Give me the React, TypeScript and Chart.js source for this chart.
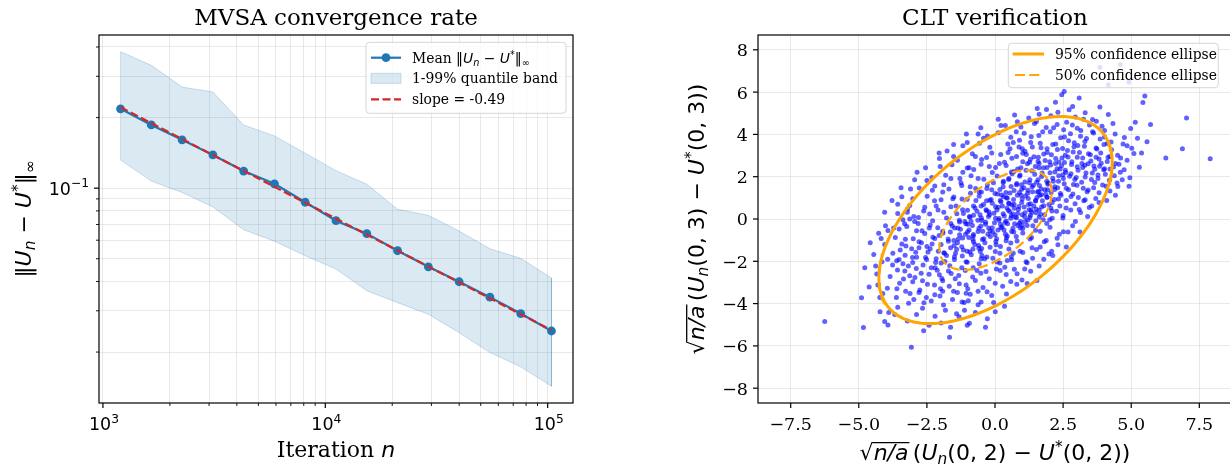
import React, { useEffect, useRef } from "react";
import { Chart, registerables } from "chart.js";

Chart.register(...registerables);

// ---------------- Left panel data ----------------
const iterations = [1200, 1650, 2270, 3122, 4294, 5906, 8124, 11173, 15368, 21137, 29072, 39986, 54997, 75643, 104040];
const meanError = [0.218, 0.186, 0.1607, 0.1386, 0.1183, 0.1044, 0.0871, 0.0727, 0.064, 0.0541, 0.0462, 0.0399, 0.0343, 0.0292, 0.0246];
const bandUpper = [0.382, 0.334, 0.27, 0.257, 0.186, 0.167, 0.141, 0.1188, 0.104, 0.0813, 0.0766, 0.0656, 0.0552, 0.0502, 0.0414];
const bandLower = [0.1318, 0.1072, 0.0959, 0.0832, 0.0665, 0.0594, 0.0515, 0.0452, 0.0365, 0.0325, 0.029, 0.0242, 0.0199, 0.0173, 0.0143];
const slopeLineN = [1200, 104040];
const slopeLineErr = [0.2215, 0.0248];
const slopeLabel = "slope = -0.49";
const leftXMajor = [1000, 10000, 100000];
const leftXMajorExp = ["3", "4", "5"];
const leftXMinor = [2000, 3000, 4000, 5000, 6000, 7000, 8000, 9000, 20000, 30000, 40000, 50000, 60000, 70000, 80000, 90000];
const leftYMajor = [0.1];
const leftYMajorExp = ["\u22121"];
const leftYMinor = [0.02, 0.03, 0.04, 0.05, 0.06, 0.07, 0.08, 0.09, 0.2, 0.3, 0.4];
const leftXRange = [960, 130000];
const leftYRange = [0.01213, 0.45];

// ---------------- Right panel data ----------------
const cltPointsOuter: [number, number][] = [
  [2.54, 6.03], [2.45, 5.88], [3.09, 5.72], [2.72, 5.17], [1.89, 5.18], [3.85, 5.29], [4.16, 4.94], [5.5, 5.81], [5.43, 5.51],
  [1.24, 4.77], [1.62, 4.95], [2.05, 4.88], [2.31, 5.05], [2.95, 4.82], [3.31, 5.02], [3.58, 4.71], [0.82, 4.6], [1.45, 4.52],
  [0.38, 4.42], [0.95, 4.35], [1.52, 4.61], [1.88, 4.33], [2.28, 4.47], [2.63, 4.58], [3.02, 4.29], [3.47, 4.44], [3.93, 4.39], [4.33, 4.51], [4.98, 4.28], [5.71, 4.47],
  [-0.28, 3.92], [0.12, 4.08], [0.58, 3.87], [1.07, 4.05], [1.61, 3.95], [2.03, 4.12], [2.41, 3.84], [2.77, 4.03], [3.14, 3.91], [3.62, 4.07], [4.02, 3.88], [4.41, 4.02], [5.23, 3.82], [-0.62, 4.02], [0.9, 3.72],
  [-1.18, 3.46], [-0.57, 3.58], [-0.19, 3.39], [0.47, 3.55], [0.88, 3.41], [1.31, 3.62], [1.69, 3.37], [2.12, 3.52], [2.48, 3.33], [2.91, 3.61], [3.28, 3.44], [3.71, 3.36], [4.12, 3.57], [4.85, 3.46], [5.58, 3.65], [1.1, 3.2], [1.92, 3.15], [2.7, 3.7],
  [-1.52, 2.96], [-0.83, 3.08], [-0.31, 2.91], [0.21, 3.05], [0.62, 2.87], [1.02, 3.11], [1.43, 2.94], [1.79, 3.07], [2.23, 2.86], [2.58, 3.02], [3.02, 2.92], [3.43, 3.09], [3.82, 2.84], [4.22, 2.95], [1.58, 2.72], [2.35, 2.7], [0.35, 2.68], [6.27, 2.88], [6.88, 3.32], [7.9, 2.85], [7.03, 4.77],
  [-2.01, 2.48], [-1.58, 2.56], [-1.02, 2.41], [-0.51, 2.59], [0.02, 2.44], [0.41, 2.53], [0.83, 2.37], [1.19, 2.61], [1.62, 2.42], [2.04, 2.55], [2.39, 2.36], [2.81, 2.58], [3.22, 2.43], [3.63, 2.51], [4.02, 2.38], [4.22, 2.36], [4.55, 2.59], [4.74, 2.33], [1.35, 2.28], [0.6, 2.22], [2.6, 2.2],
  [-2.32, 1.96], [-1.81, 2.07], [-1.29, 1.92], [-0.88, 2.04], [-0.41, 1.88], [0.08, 2.03], [0.51, 1.91], [0.92, 2.08], [1.28, 1.86], [1.71, 2.01], [2.12, 1.93], [2.49, 2.09], [2.93, 1.87], [3.31, 1.99], [3.78, 1.91], [4.67, 1.85], [4.48, 1.7], [1.1, 1.75], [0.3, 1.72], [1.9, 1.78], [-0.1, 2.2], [0.7, 2.25],
  [-2.78, 1.47], [-2.21, 1.56], [-1.69, 1.42], [-1.22, 1.58], [-0.71, 1.44], [-0.28, 1.61], [0.18, 1.39], [0.59, 1.54], [0.98, 1.41], [1.41, 1.59], [1.83, 1.38], [2.19, 1.52], [2.62, 1.45], [3.01, 1.6], [3.42, 1.37], [4.51, 1.54], [0.4, 1.25], [1.2, 1.22], [1.6, 1.3], [-0.5, 1.28], [2.4, 1.2], [0.8, 1.68], [1.95, 1.7],
  [-3.02, 0.96], [-2.49, 1.07], [-1.98, 0.91], [-1.51, 1.04], [-1.02, 0.93], [-0.58, 1.08], [-0.19, 0.89], [0.31, 1.05], [0.68, 0.92], [1.12, 1.09], [1.49, 0.88], [1.91, 1.03], [2.33, 0.94], [2.79, 1.06], [3.31, 0.91], [0.0, 1.2], [0.9, 1.25], [1.7, 1.15], [-0.9, 1.22], [0.5, 0.75], [1.3, 0.72], [2.1, 0.78],
  [-3.21, 0.47], [-2.58, 0.55], [-2.09, 0.42], [-1.62, 0.58], [-1.19, 0.44], [-0.79, 0.61], [-0.31, 0.39], [0.12, 0.56], [0.49, 0.41], [0.88, 0.59], [1.32, 0.43], [1.71, 0.57], [2.09, 0.38], [2.61, 0.52], [3.09, 0.45], [-0.55, 0.2], [0.3, 0.25], [1.0, 0.2], [1.5, 0.3], [-1.4, 0.25], [0.7, 0.7], [-0.1, 0.75],
  [-3.38, -0.04], [-2.81, 0.07], [-2.29, -0.08], [-1.78, 0.05], [-1.31, -0.06], [-0.92, 0.08], [-0.48, -0.07], [0.02, 0.04], [0.41, -0.09], [0.79, 0.06], [1.21, -0.05], [1.62, 0.09], [2.01, -0.03], [2.49, 0.05], [-3.57, 0.26], [-3.13, 0.0], [-3.13, 0.64], [-3.57, 0.7], [0.2, -0.25], [-0.2, 0.2], [0.6, 0.15], [1.0, -0.3], [-1.0, -0.25],
  [-3.52, -0.47], [-2.88, -0.56], [-2.41, -0.43], [-1.92, -0.58], [-1.48, -0.42], [-1.01, -0.61], [-0.59, -0.44], [-0.18, -0.57], [0.22, -0.41], [0.61, -0.59], [1.02, -0.45], [1.49, -0.53], [2.02, -0.39], [2.51, -0.6], [-4.27, -0.67], [-3.93, -0.54], [-0.8, -0.8], [0.0, -0.75], [0.45, -0.8], [-1.3, -0.75], [0.9, -0.2], [-0.35, -0.25],
  [-3.29, -0.96], [-2.79, -1.07], [-2.21, -0.92], [-1.71, -1.05], [-1.19, -0.9], [-0.79, -1.08], [-0.41, -0.93], [0.03, -1.06], [0.42, -0.89], [0.81, -1.04], [1.29, -0.94], [1.81, -1.08], [2.28, -0.91], [-1.5, -1.25], [-0.6, -1.25], [0.2, -1.3], [-2.5, -1.3],
  [-3.48, -1.46], [-2.91, -1.57], [-2.38, -1.41], [-1.88, -1.59], [-1.41, -1.43], [-0.92, -1.56], [-0.49, -1.39], [0.01, -1.54], [0.51, -1.42], [1.02, -1.58], [1.52, -1.44], [2.08, -1.52], [-3.94, -1.9], [-1.2, -1.75], [-0.3, -1.8], [0.6, -1.78],
  [-3.61, -1.97], [-3.02, -2.06], [-2.51, -1.92], [-1.98, -2.08], [-1.49, -1.91], [-1.02, -2.04], [-0.51, -1.88], [0.08, -2.03], [0.61, -1.93], [1.18, -2.07], [1.79, -1.9], [-4.78, -2.31], [-4.34, -2.6], [-2.2, -2.3], [-0.8, -2.3],
  [-3.31, -2.46], [-2.71, -2.57], [-2.12, -2.42], [-1.61, -2.58], [-1.09, -2.43], [-0.52, -2.56], [0.19, -2.44], [0.81, -2.59], [1.31, -2.47], [0.99, -2.88], [1.54, -2.91],
  [-3.02, -2.97], [-2.48, -3.08], [-1.92, -2.92], [-1.31, -3.06], [-0.72, -2.91], [0.01, -3.04], [0.58, -2.95], [-2.0, -3.3], [-1.0, -3.3], [-3.6, -3.3],
  [-2.79, -3.47], [-2.21, -3.58], [-1.52, -3.42], [-0.91, -3.56], [-0.29, -3.44], [-1.06, -3.51], [-4.23, -3.71], [-3.17, -3.98],
  [-2.61, -3.96], [-1.89, -4.07], [-1.21, -3.92], [-0.62, -4.05], [-1.13, -3.95], [-0.05, -3.95], [-3.57, -4.17], [-4.22, -4.38], [-3.9, -4.42],
  [-2.88, -4.52], [-1.41, -4.48], [0.01, -4.38], [-0.94, -4.93], [-2.2, -4.6], [-3.93, -5.01], [-6.25, -4.85], [-4.83, -5.13], [-2.62, -5.28], [-3.07, -6.06], [-1.67, -5.59], [-1.63, -5.12],
  [3.85, 7.17], [4.6, 7.3], [4.92, 6.46], [4.16, 6.35],
];
const cltPointsCore: [number, number][] = [
  [-1.85, -1.62], [-1.72, -0.94], [-1.66, -2.21], [-1.57, -0.33], [-1.49, -1.78], [-1.43, 0.62], [-1.38, -1.12], [-1.33, -2.67], [-1.27, -0.48], [-1.21, 0.95],
  [-1.16, -1.47], [-1.11, -0.12], [-1.06, -2.02], [-1.01, 0.41], [-0.96, -0.88], [-0.91, 1.53], [-0.87, -1.69], [-0.83, -0.31], [-0.79, 0.18], [-0.74, -1.21],
  [-0.7, 0.87], [-0.66, -2.43], [-0.62, -0.59], [-0.58, 1.27], [-0.54, -1.54], [-0.5, 0.05], [-0.46, -0.97], [-0.42, 0.69], [-0.38, -1.88], [-0.34, -0.15],
  [-0.3, 1.44], [-0.26, -0.72], [-0.22, 0.33], [-0.18, -1.33], [-0.14, 0.92], [-0.1, -0.41], [-0.06, 1.71], [-0.02, -0.18], [0.02, 0.58], [0.06, -0.93],
  [0.1, 1.18], [0.14, -0.06], [0.18, -1.62], [0.22, 0.81], [0.26, -0.37], [0.3, 1.52], [0.34, 0.14], [0.38, -0.71], [0.42, 1.02], [0.46, -0.22],
  [0.5, 1.87], [0.54, 0.36], [0.58, -1.14], [0.62, 0.66], [0.66, -0.44], [0.7, 1.35], [0.74, 0.09], [0.78, -0.83], [0.82, 1.12], [0.86, 0.45],
  [0.9, 2.02], [0.94, -0.12], [0.98, 0.78], [1.02, -0.66], [1.06, 1.48], [1.1, 0.29], [1.14, 2.31], [1.18, -0.31], [1.22, 0.97], [1.26, 1.71],
  [1.3, 0.18], [1.34, -0.87], [1.38, 1.29], [1.42, 0.62], [1.46, 2.11], [1.5, -0.08], [1.54, 1.02], [1.58, 1.86], [1.62, 0.41], [1.66, -0.58],
  [1.7, 1.42], [1.74, 0.86], [1.78, 2.42], [1.82, 0.2], [1.86, 1.17], [1.9, -0.21], [1.94, 1.64], [1.98, 0.68], [2.02, 2.19], [2.06, 1.24],
  [2.1, 0.04], [2.14, 1.79], [2.18, 0.92], [2.22, 2.63], [2.26, 0.37], [2.3, 1.48], [2.34, 2.05], [2.38, 0.61], [2.42, 1.12], [2.46, 2.88],
  [2.5, 0.16], [2.54, 1.67], [2.58, 2.31], [2.62, 0.88], [2.66, 3.24], [2.7, 1.38], [2.74, 2.02], [2.78, 0.43], [2.82, 2.71], [2.86, 1.18],
  [2.9, 3.42], [2.94, 0.72], [2.98, 1.96], [3.02, 2.47], [3.06, 1.02], [3.1, 3.15], [3.14, 0.31], [3.18, 1.74], [3.22, 2.88], [3.26, 0.86],
  [3.3, 3.66], [3.34, 2.18], [3.38, 1.29], [3.42, 2.61], [3.46, 0.54], [3.5, 3.04], [3.54, 1.87], [3.58, 4.12], [3.62, 1.48], [3.66, 2.35],
  [3.7, 0.97], [3.74, 3.31], [3.78, 2.08], [3.82, 1.24], [3.86, 3.78], [3.9, 2.64], [3.95, 1.61], [4.0, 3.52], [4.05, 2.12], [4.1, 0.88],
  [4.15, 2.92], [4.2, 1.83], [4.28, 3.28], [4.35, 2.46], [4.42, 1.12], [4.5, 3.02], [4.6, 2.21], [4.7, 3.55], [4.85, 2.78], [4.95, 1.95], [5.1, 3.1], [5.3, 2.45],
  [-1.92, -3.42], [-1.98, -1.21], [-2.04, -2.64], [-2.1, -0.41], [-2.16, -1.88], [-2.22, -3.12], [-2.28, -0.86], [-2.34, -2.31], [-2.4, 0.24], [-2.46, -1.56],
  [-2.52, -3.71], [-2.58, -0.68], [-2.64, -2.18], [-2.7, -1.12], [-2.76, -3.36], [-2.82, -0.21], [-2.88, -1.81], [-2.94, -2.77], [-3.0, -0.93], [-3.06, -1.41],
  [-3.12, -3.52], [-3.18, -2.22], [-3.24, -0.36], [-3.3, -1.71], [-3.36, -2.84], [-3.42, -1.18], [-3.5, -3.04], [-3.58, -2.41], [-3.66, -0.88], [-3.75, -1.62],
  [-3.85, -2.72], [-3.95, -3.28], [-4.05, -1.21], [-4.15, -2.02], [-4.3, -3.12], [-4.45, -1.68], [-1.82, -4.32], [-1.56, -3.81], [-1.32, -4.62], [-0.98, -3.86],
  [-0.72, -4.42], [-0.44, -3.24], [-0.21, -2.82], [0.05, -2.36], [0.28, -3.18], [0.45, -1.96], [0.71, -2.38], [0.92, -1.52], [1.14, -2.02], [1.36, -1.36],
  [1.62, -2.22], [1.88, -1.02], [2.12, -1.72], [2.36, -0.72], [2.62, -1.32], [2.85, -0.32], [3.12, -0.62], [3.4, 0.12], [-2.5, 1.82], [-2.86, 2.21],
  [-3.1, 1.42], [-3.42, 1.05], [-2.04, 2.86], [-1.76, 3.22], [-1.38, 2.78], [-1.02, 3.62], [-0.72, 2.96], [-0.42, 3.82], [-0.12, 3.12], [0.22, 4.42],
  [0.55, 3.32], [0.78, 4.12], [-1.62, 1.92], [-1.92, 1.28], [-2.22, 0.86], [-2.62, 0.38], [-2.98, 0.12], [-3.32, -0.22], [-3.72, -0.42], [-4.05, 0.32],
  [-0.95, -0.52], [-0.81, -1.42], [-0.63, -0.06], [-0.48, -1.72], [-0.33, 0.44], [-0.17, -0.83], [-0.04, 0.27], [0.11, -0.52], [0.24, 1.13], [0.37, -0.16],
  [0.52, 0.73], [0.66, 0.24], [0.79, 1.62], [0.93, -0.43], [1.07, 0.57], [1.21, 1.36], [1.35, 0.32], [1.49, 0.85], [1.63, 1.58], [1.77, -0.04],
  [1.91, 1.03], [2.05, 0.52], [2.19, 1.39], [2.33, 1.78], [0.15, 0.02], [0.44, 0.52], [0.72, -0.22], [1.0, 0.95], [1.28, 0.07], [1.56, 1.28],
  [-0.23, -0.42], [-0.51, 0.62], [-0.79, -0.73], [-1.07, -0.23], [-1.35, -0.94], [-1.63, -1.36], [-1.91, -0.66], [0.31, 1.78], [0.63, 2.14], [0.95, 2.42],
  [1.27, 2.68], [1.59, 2.92], [1.91, 3.32], [2.23, 3.55], [2.55, 3.88],
];
const cltPointsExtra: [number, number][] = [
  [1.15, 3.05], [1.37, 3.41], [1.66, 3.58], [1.84, 2.77], [2.07, 3.04], [2.29, 3.29], [2.44, 2.52], [2.68, 2.93], [2.87, 3.17], [3.04, 3.47],
  [3.19, 2.63], [3.36, 3.81], [3.52, 2.74], [3.71, 2.92], [3.88, 3.12], [3.99, 2.33], [4.12, 2.72], [4.26, 3.64], [4.38, 2.05], [2.15, 4.31],
  [2.52, 4.22], [2.84, 4.45], [3.15, 4.18], [1.75, 4.12], [1.33, 3.89], [0.67, 3.62], [1.02, 2.71], [0.79, 2.96], [0.48, 3.14], [0.16, 2.62],
  [-0.21, 2.48], [-0.49, 2.81], [-0.78, 2.34], [1.48, 2.48], [1.73, 2.18], [2.01, 2.71], [2.28, 2.38], [2.55, 2.67], [2.79, 2.14], [3.05, 2.31],
  [3.3, 2.54], [3.57, 2.18], [3.84, 2.49], [4.08, 1.55], [3.66, 1.72], [3.24, 1.45], [2.88, 1.63], [2.51, 1.92], [2.2, 2.22], [1.91, 2.44],
  [1.62, 2.62], [1.3, 2.82], [1.0, 3.32],
  [0.07, 0.42], [0.19, 0.88], [0.33, -0.52], [0.45, 0.98], [0.58, 0.04], [0.71, 0.51], [0.84, -0.31], [0.96, 1.12], [1.09, 0.11], [1.23, 0.68],
  [1.36, 1.52], [1.51, 0.47], [1.64, 1.12], [1.79, 0.63], [1.93, 1.38], [-0.09, -0.62], [-0.24, 0.12], [-0.37, -1.12], [-0.52, -0.33], [-0.66, 0.37],
  [-0.81, -0.96], [-0.94, 0.12], [-1.08, -0.72], [-1.22, -1.31], [-1.36, -0.42], [-1.51, -1.02], [-1.64, -0.61], [-1.78, -1.73], [-0.12, 1.38], [0.04, -1.22],
  [0.27, 0.62], [0.41, -1.03], [0.55, 1.23], [0.69, -0.61], [0.83, 0.26], [0.97, 1.62], [1.11, -0.12], [1.25, 0.44], [1.39, -0.32], [1.53, 1.74],
  [1.67, 0.22], [-0.31, 0.86], [-0.45, -0.58], [-0.59, -1.38], [-0.73, 0.52], [-0.88, -0.12], [-1.02, -1.52], [-1.16, 0.26], [-1.3, -0.14], [-1.45, -1.62],
  [-1.22, -2.31], [-1.46, -2.82], [-1.71, -2.46], [-1.95, -2.81], [-2.18, -2.06], [-2.42, -2.61], [-2.66, -2.92], [-2.89, -2.34], [-3.13, -2.68], [-3.38, -2.12],
  [-1.06, -3.12], [-1.38, -3.48], [-1.68, -3.18], [-2.02, -3.64], [-2.34, -3.88], [-2.66, -4.22], [-2.98, -3.81], [-3.28, -3.42], [-3.62, -3.71], [-0.82, -2.74],
  [-0.58, -2.12], [-0.33, -2.48], [-0.08, -1.86], [0.18, -2.08], [0.41, -2.62], [0.67, -1.62], [-1.84, -2.01], [-2.08, -1.52], [-2.31, -1.18], [-2.55, -1.82],
  [-2.79, -1.36], [-3.03, -1.82], [-3.27, -1.28], [-3.52, -1.92], [-3.76, -2.18], [-2.05, -0.78], [-2.38, -0.28], [-2.68, -0.56], [-2.95, -0.12], [-3.22, 0.32],
  [-1.62, -0.21], [-1.88, 0.32], [-2.16, 0.62], [-1.55, 0.96], [-1.88, 1.62], [-2.3, 1.36], [-1.25, 1.71], [-0.95, 2.42], [-0.62, 1.92], [-1.18, 2.21],
  [3.55, 0.62], [3.82, 0.78], [2.95, -0.12], [2.68, -0.62], [2.31, -1.22], [1.98, -1.66], [1.66, -1.32], [1.38, -1.86], [1.09, -2.36], [0.8, -3.08],
  [0.42, -3.55], [-0.12, -3.62], [-0.51, -3.92], [-0.28, -4.72], [0.36, -2.28], [4.22, 1.32], [4.42, 2.62], [4.61, 2.88], [4.02, 4.18], [3.72, 4.62],
  [3.25, 4.72], [2.85, 5.32], [2.22, 5.52], [1.55, 5.22], [0.72, 4.92], [0.12, 4.72], [-0.52, 4.32], [-1.05, 4.02], [-1.52, 3.52], [-2.05, 3.12],
  [-2.55, 2.42], [-2.95, 1.85], [-3.45, 1.48], [-3.78, 0.88], [-4.02, -0.32], [-4.18, -0.92], [-4.38, -2.22], [-4.12, -3.52], [-3.68, -4.52], [-3.22, -4.82],
  [-2.42, -5.02], [-1.98, -4.92], [-1.12, -4.32], [-0.62, -3.42],
  [4.75, 3.85], [5.02, 3.35], [4.92, 1.55], [5.38, 3.12], [5.15, 4.58], [-4.62, -3.22], [-4.05, -4.85], [-4.58, -1.12], [-4.9, -3.72], [-1.02, -5.02],
  [-0.35, -5.12], [0.35, -4.12], [1.18, -3.05],
];
const ellipseCenter = [0.02, -0.05];
const ellipseSigma = [1.75, 2.0];
const ellipseRho = 0.56;
const chi2Level95 = 5.991;
const chi2Level50 = 1.386;
const rightXTicks = [-7.5, -5, -2.5, 0, 2.5, 5, 7.5];
const rightXTickLabels = ["\u22127.5", "\u22125.0", "\u22122.5", "0.0", "2.5", "5.0", "7.5"];
const rightYTicks = [-8, -6, -4, -2, 0, 2, 4, 6, 8];
const rightYTickLabels = ["\u22128", "\u22126", "\u22124", "\u22122", "0", "2", "4", "6", "8"];
const rightRange = [-8.7, 8.7];

// ---------------- styling ----------------
const SERIF = '"DejaVu Serif", serif';
const SANS = '"DejaVu Sans", sans-serif';
const GRID = "rgba(176,176,176,0.28)";
const BLUE = "#1f77b4";
const BAND_FILL = "rgba(31,119,180,0.16)";
const BAND_EDGE = "rgba(31,119,180,0.22)";
const RED = "#d62728";
const ORANGE = "#ffa500";
const TICK_FS = 17.5;
const LABEL_FS = 22;
const TITLE_FS = 23;
const LEG_FS = 13.9;

type Seg = { t: string; font: string; dy?: number; over?: boolean };
const sans = (t: string, s: number, dy = 0): Seg => ({ t, font: `${s}px ${SANS}`, dy });
const ital = (t: string, s: number, dy = 0, over = false): Seg => ({ t, font: `italic ${s}px ${SANS}`, dy, over });
const serif = (t: string, s: number, dy = 0): Seg => ({ t, font: `${s}px ${SERIF}`, dy });

function drawRich(ctx: CanvasRenderingContext2D, segs: Seg[], x: number, y: number, align: "left" | "center" | "right", color = "#000") {
  ctx.save();
  ctx.textBaseline = "alphabetic";
  ctx.textAlign = "left";
  ctx.fillStyle = color;
  const widths = segs.map((s) => {
    ctx.font = s.font;
    return ctx.measureText(s.t).width;
  });
  const total = widths.reduce((a, b) => a + b, 0);
  let cur = align === "left" ? x : align === "center" ? x - total / 2 : x - total;
  segs.forEach((s, i) => {
    ctx.font = s.font;
    ctx.fillText(s.t, cur, y + (s.dy || 0));
    if (s.over) {
      ctx.strokeStyle = color;
      ctx.lineWidth = 1.3;
      ctx.beginPath();
      ctx.moveTo(cur - 1, y - 17.3);
      ctx.lineTo(cur + widths[i] + 1, y - 17.3);
      ctx.stroke();
    }
    cur += widths[i];
  });
  ctx.restore();
  return total;
}

function roundRect(ctx: CanvasRenderingContext2D, x: number, y: number, w: number, h: number, r: number) {
  ctx.beginPath();
  ctx.moveTo(x + r, y);
  ctx.lineTo(x + w - r, y);
  ctx.arcTo(x + w, y, x + w, y + r, r);
  ctx.lineTo(x + w, y + h - r);
  ctx.arcTo(x + w, y + h, x + w - r, y + h, r);
  ctx.lineTo(x + r, y + h);
  ctx.arcTo(x, y + h, x, y + h - r, r);
  ctx.lineTo(x, y + r);
  ctx.arcTo(x, y, x + r, y, r);
  ctx.closePath();
}

function legendFrame(ctx: CanvasRenderingContext2D, x: number, y: number, w: number, h: number) {
  ctx.save();
  roundRect(ctx, x, y, w, h, 3.5);
  ctx.fillStyle = "rgba(255,255,255,0.8)";
  ctx.fill();
  ctx.strokeStyle = "rgba(204,204,204,0.8)";
  ctx.lineWidth = 1;
  ctx.stroke();
  ctx.restore();
}

function tickMarksX(ctx: CanvasRenderingContext2D, scale: any, vals: number[], y: number, len: number, w: number) {
  ctx.save();
  ctx.strokeStyle = "#000";
  ctx.lineWidth = w;
  vals.forEach((v) => {
    const p = scale.getPixelForValue(v);
    ctx.beginPath();
    ctx.moveTo(p, y);
    ctx.lineTo(p, y + len);
    ctx.stroke();
  });
  ctx.restore();
}
function tickMarksY(ctx: CanvasRenderingContext2D, scale: any, vals: number[], x: number, len: number, w: number) {
  ctx.save();
  ctx.strokeStyle = "#000";
  ctx.lineWidth = w;
  vals.forEach((v) => {
    const p = scale.getPixelForValue(v);
    ctx.beginPath();
    ctx.moveTo(x, p);
    ctx.lineTo(x - len, p);
    ctx.stroke();
  });
  ctx.restore();
}
function spines(ctx: CanvasRenderingContext2D, a: any) {
  ctx.save();
  ctx.strokeStyle = "#000";
  ctx.lineWidth = 1.2;
  ctx.strokeRect(a.left, a.top, a.right - a.left, a.bottom - a.top);
  ctx.restore();
}
function rotatedLabel(ctx: CanvasRenderingContext2D, segs: Seg[], x: number, y: number) {
  ctx.save();
  ctx.translate(x, y);
  ctx.rotate(-Math.PI / 2);
  drawRich(ctx, segs, 0, 0, "center");
  ctx.restore();
}

const normSegs = (s: number): Seg[] => [
  sans("\u2016", s),
  ital("U", s),
  ital("n", s * 0.7, s * 0.2),
  sans(" \u2212 ", s),
  ital("U", s),
  sans("*", s * 0.7, -s * 0.36),
  sans("\u2016", s),
  sans("\u221e", s * 0.7, s * 0.2),
];
const cltSegs = (idx: string, s: number): Seg[] => [
  sans("\u221a", s),
  ital("n/a", s, 0, true),
  sans("\u2009(", s),
  ital("U", s),
  ital("n", s * 0.7, s * 0.2),
  sans(`(0, ${idx}) \u2212 `, s),
  ital("U", s),
  sans("*", s * 0.7, -s * 0.36),
  sans(`(0, ${idx}))`, s),
];

const fixedScale = (horizontal: boolean) => (s: any) => {
  if (horizontal) s.height = 0;
  else s.width = 0;
};

const leftDecor = {
  id: "leftDecor",
  afterDraw(chart: any) {
    const ctx: CanvasRenderingContext2D = chart.ctx;
    const a = chart.chartArea;
    const sx = chart.scales.x;
    const sy = chart.scales.y;
    spines(ctx, a);
    tickMarksX(ctx, sx, leftXMajor, a.bottom, 5, 1.2);
    tickMarksX(ctx, sx, leftXMinor, a.bottom, 3, 0.9);
    tickMarksY(ctx, sy, leftYMajor, a.left, 5, 1.2);
    tickMarksY(ctx, sy, leftYMinor, a.left, 3, 0.9);
    leftXMajor.forEach((v, i) => {
      drawRich(ctx, [sans("10", TICK_FS), sans(leftXMajorExp[i], TICK_FS * 0.7, -7.3)], sx.getPixelForValue(v) + 1, 430, "center");
    });
    leftYMajor.forEach((v, i) => {
      drawRich(ctx, [sans("10", TICK_FS), sans(leftYMajorExp[i], TICK_FS * 0.7, -7.3)], a.left - 10, sy.getPixelForValue(v) + 6.5, "right");
    });
    drawRich(ctx, [serif("MVSA convergence rate", TITLE_FS)], (a.left + a.right) / 2, 25, "center");
    drawRich(ctx, [serif("Iteration ", LABEL_FS), ital("n", LABEL_FS)], (a.left + a.right) / 2, 457, "center");
    rotatedLabel(ctx, normSegs(LABEL_FS), 31, (a.top + a.bottom) / 2);
    // legend
    legendFrame(ctx, 366, 42.3, 200, 71);
    const rows = [57.7, 78.3, 99.3];
    ctx.save();
    ctx.strokeStyle = BLUE;
    ctx.lineWidth = 2.2;
    ctx.beginPath();
    ctx.moveTo(371, rows[0]);
    ctx.lineTo(401, rows[0]);
    ctx.stroke();
    ctx.fillStyle = BLUE;
    ctx.beginPath();
    ctx.arc(386, rows[0], 4.4, 0, Math.PI * 2);
    ctx.fill();
    ctx.fillStyle = BAND_FILL;
    ctx.fillRect(371, rows[1] - 5, 30, 10);
    ctx.strokeStyle = BAND_EDGE;
    ctx.lineWidth = 1;
    ctx.strokeRect(371, rows[1] - 5, 30, 10);
    ctx.strokeStyle = RED;
    ctx.lineWidth = 2.2;
    ctx.setLineDash([8, 3.5]);
    ctx.beginPath();
    ctx.moveTo(371, rows[2]);
    ctx.lineTo(401, rows[2]);
    ctx.stroke();
    ctx.restore();
    drawRich(ctx, [serif("Mean ", LEG_FS), ...normSegs(LEG_FS)], 412, rows[0] + 5.1, "left");
    drawRich(ctx, [serif("1-99% quantile band", LEG_FS)], 412, rows[1] + 5.1, "left");
    drawRich(ctx, [serif(slopeLabel, LEG_FS)], 412, rows[2] + 5.1, "left");
  },
};

const rightDecor = {
  id: "rightDecor",
  afterDraw(chart: any) {
    const ctx: CanvasRenderingContext2D = chart.ctx;
    const a = chart.chartArea;
    const sx = chart.scales.x;
    const sy = chart.scales.y;
    spines(ctx, a);
    tickMarksX(ctx, sx, rightXTicks, a.bottom, 5, 1.2);
    tickMarksY(ctx, sy, rightYTicks, a.left, 5, 1.2);
    rightXTicks.forEach((v, i) => {
      drawRich(ctx, [serif(rightXTickLabels[i], TICK_FS)], sx.getPixelForValue(v), 430, "center");
    });
    rightYTicks.forEach((v, i) => {
      drawRich(ctx, [serif(rightYTickLabels[i], TICK_FS)], a.left - 10, sy.getPixelForValue(v) + 6.4, "right");
    });
    drawRich(ctx, [serif("CLT verification", TITLE_FS)], (a.left + a.right) / 2, 25, "center");
    drawRich(ctx, cltSegs("2", LABEL_FS), (a.left + a.right) / 2, 460, "center");
    rotatedLabel(ctx, cltSegs("3", LABEL_FS), 704 - 615, (a.top + a.bottom) / 2);
    // legend
    legendFrame(ctx, 1008.3 - 615, 43.3, 210, 44.4);
    ctx.save();
    ctx.strokeStyle = ORANGE;
    ctx.lineWidth = 3;
    ctx.beginPath();
    ctx.moveTo(1012.7 - 615, 54);
    ctx.lineTo(1044 - 615, 54);
    ctx.stroke();
    ctx.lineWidth = 2.2;
    ctx.setLineDash([10, 4.3]);
    ctx.beginPath();
    ctx.moveTo(1015 - 615, 75);
    ctx.lineTo(1039.5 - 615, 75);
    ctx.stroke();
    ctx.restore();
    drawRich(ctx, [serif("95% confidence ellipse", LEG_FS)], 1055 - 615, 54 + 5.1, "left");
    drawRich(ctx, [serif("50% confidence ellipse", LEG_FS)], 1055 - 615, 75 + 5.1, "left");
  },
};

function ellipsePoints(chi2: number) {
  const k = Math.sqrt(chi2);
  const q = Math.sqrt(1 - ellipseRho * ellipseRho);
  const pts: { x: number; y: number }[] = [];
  for (let i = 0; i <= 240; i++) {
    const t = (i / 240) * Math.PI * 2;
    const c = Math.cos(t);
    const s = Math.sin(t);
    pts.push({
      x: ellipseCenter[0] + k * ellipseSigma[0] * c,
      y: ellipseCenter[1] + k * ellipseSigma[1] * (ellipseRho * c + q * s),
    });
  }
  return pts;
}

export default function App() {
  const leftRef = useRef<HTMLCanvasElement>(null);
  const rightRef = useRef<HTMLCanvasElement>(null);

  useEffect(() => {
    const xy = (xs: number[], ys: number[]) => xs.map((x, i) => ({ x, y: ys[i] }));
    const bandOutline = [...xy(iterations, bandUpper), ...xy(iterations, bandLower).reverse(), { x: iterations[0], y: bandUpper[0] }];
    const left = new Chart(leftRef.current!, {
      type: "line",
      data: {
        datasets: [
          { data: xy(slopeLineN, slopeLineErr), borderColor: RED, borderWidth: 2.2, borderDash: [8, 3.5], pointRadius: 0, fill: false },
          { data: xy(iterations, meanError), borderColor: BLUE, borderWidth: 2.2, pointRadius: 4.4, pointBackgroundColor: BLUE, pointBorderWidth: 0, fill: false },
          { data: bandOutline, borderColor: BAND_EDGE, borderWidth: 1, pointRadius: 0, fill: false },
          { data: xy(iterations, bandUpper), borderWidth: 0, borderColor: "rgba(0,0,0,0)", pointRadius: 0, fill: "+1", backgroundColor: BAND_FILL },
          { data: xy(iterations, bandLower), borderWidth: 0, borderColor: "rgba(0,0,0,0)", pointRadius: 0, fill: false },
        ],
      },
      options: {
        animation: false,
        responsive: false,
        events: [],
        layout: { padding: { left: 99, top: 35, right: 42, bottom: 66 } },
        plugins: { legend: { display: false }, tooltip: { enabled: false } },
        elements: { line: { tension: 0 } },
        scales: {
          x: {
            type: "logarithmic",
            min: leftXRange[0],
            max: leftXRange[1],
            afterBuildTicks: (s: any) => {
              s.ticks = [...leftXMajor, ...leftXMinor].map((value) => ({ value }));
            },
            afterFit: fixedScale(true),
            ticks: { display: false },
            grid: { color: GRID, lineWidth: 1, drawTicks: false },
            border: { display: false },
          },
          y: {
            type: "logarithmic",
            min: leftYRange[0],
            max: leftYRange[1],
            afterBuildTicks: (s: any) => {
              s.ticks = [...leftYMajor, ...leftYMinor].map((value) => ({ value }));
            },
            afterFit: fixedScale(false),
            ticks: { display: false },
            grid: { color: GRID, lineWidth: 1, drawTicks: false },
            border: { display: false },
          },
        },
      } as any,
      plugins: [leftDecor],
    });

    const right = new Chart(rightRef.current!, {
      type: "scatter",
      data: {
        datasets: [
          { data: ellipsePoints(chi2Level95), showLine: true, borderColor: ORANGE, borderWidth: 3, pointRadius: 0, fill: false },
          { data: ellipsePoints(chi2Level50), showLine: true, borderColor: ORANGE, borderWidth: 2.2, borderDash: [10, 4.3], pointRadius: 0, fill: false },
          {
            data: [...cltPointsOuter, ...cltPointsCore, ...cltPointsExtra].map(([x, y]) => ({ x, y })),
            pointRadius: 2.5,
            pointBackgroundColor: "rgba(0,0,255,0.62)",
            pointBorderWidth: 0,
          },
        ],
      },
      options: {
        animation: false,
        responsive: false,
        events: [],
        layout: { padding: { left: 143, top: 35, right: 8, bottom: 66 } },
        plugins: { legend: { display: false }, tooltip: { enabled: false } },
        elements: { line: { tension: 0 } },
        scales: {
          x: {
            type: "linear",
            min: rightRange[0],
            max: rightRange[1],
            afterBuildTicks: (s: any) => {
              s.ticks = rightXTicks.map((value) => ({ value }));
            },
            afterFit: fixedScale(true),
            ticks: { display: false },
            grid: { color: GRID, lineWidth: 1, drawTicks: false },
            border: { display: false },
          },
          y: {
            type: "linear",
            min: rightRange[0],
            max: rightRange[1],
            afterBuildTicks: (s: any) => {
              s.ticks = rightYTicks.map((value) => ({ value }));
            },
            afterFit: fixedScale(false),
            ticks: { display: false },
            grid: { color: GRID, lineWidth: 1, drawTicks: false },
            border: { display: false },
          },
        },
      } as any,
      plugins: [rightDecor],
    });

    return () => {
      left.destroy();
      right.destroy();
    };
  }, []);

  return (
    <div style={{ position: "fixed", left: 0, top: 0, width: 1230, height: 469, overflow: "hidden", background: "#fff" }}>
      <canvas ref={leftRef} width={615} height={469} style={{ position: "absolute", left: 0, top: 0, width: 615, height: 469 }} />
      <canvas ref={rightRef} width={625} height={469} style={{ position: "absolute", left: 615, top: 0, width: 625, height: 469 }} />
    </div>
  );
}
